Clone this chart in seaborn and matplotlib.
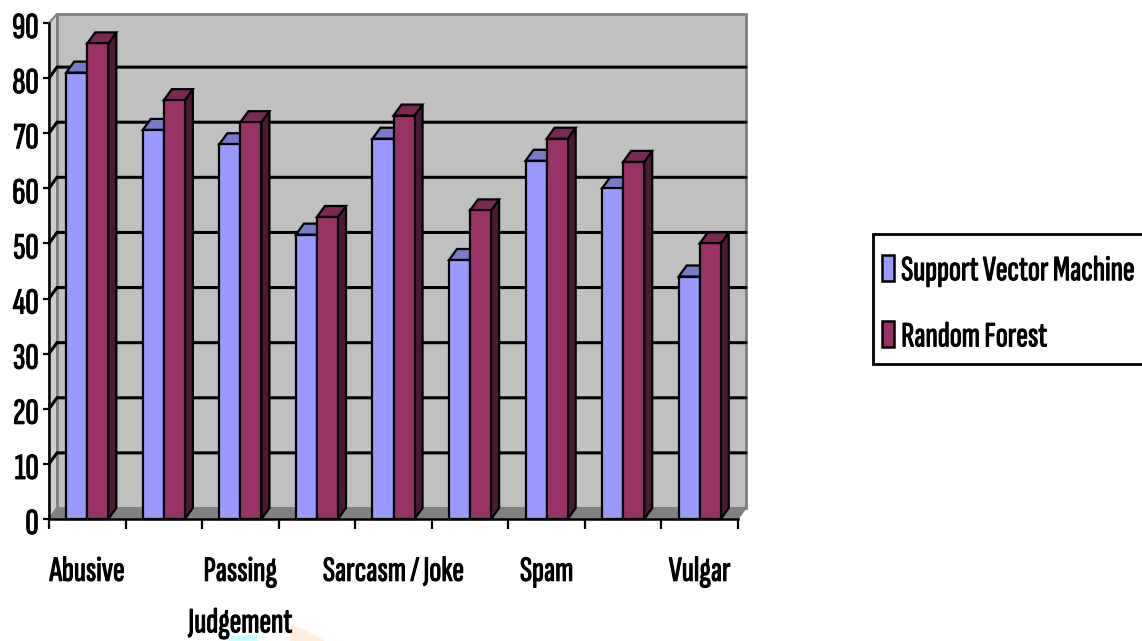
import matplotlib
matplotlib.use("Agg")
import matplotlib.pyplot as plt
import matplotlib.patheffects as pe
from matplotlib.patches import Patch, Polygon, Rectangle
from matplotlib.transforms import ScaledTranslation
import pandas as pd
import seaborn as sns

# Classification scores per comment category (every other category label is shown)
groups = list(range(9))
tick_labels = ["Abusive", "", "Passing\nJudgement", "", "Sarcasm / Joke", "", "Spam", "", "Vulgar"]
svm_scores = [81, 70.6, 68, 51.6, 69, 47, 65, 60, 44]
rf_scores = [86.3, 76, 72, 54.8, 73.2, 56, 69, 64.8, 50]
y_ticks = list(range(0, 91, 10))
series_names = ["Support Vector Machine", "Random Forest"]

front_colors = ["#9999FF", "#993366"]
top_colors = ["#7A7ACC", "#7A2952"]
side_colors = ["#4D4D80", "#4D1A33"]

sns.set_theme(style="white")
plt.rcParams["font.family"] = ["Sofia Sans Extra Condensed", "Oswald", "DejaVu Sans"]
plt.rcParams["font.weight"] = "bold"

# A thin outline gives the condensed face its heavy look
HEAVY = [pe.withStroke(linewidth=0.8, foreground="black")]
FONT_SIZE = 25.5

W, H = 1142, 641
fig = plt.figure(figsize=(W / 100, H / 100), dpi=100)
ax = fig.add_axes([49 / W, (H - 519) / H, 689 / W, 496 / H])

# Pale page decoration peeking out along the bottom edge
for points, tint in (([(228, 641), (232, 636), (257, 634), (257, 641)], "#CCFFFF"),
                     ([(290, 641), (290, 625), (305, 630), (325, 641)], "#FFEEDD")):
    fig.add_artist(Polygon([(px / W, 1 - py / H) for px, py in points], closed=True,
                           transform=fig.transFigure, facecolor=tint, edgecolor="none", zorder=-1))

df = pd.DataFrame({
    "group": groups * 2,
    "model": [series_names[0]] * 9 + [series_names[1]] * 9,
    "score": svm_scores + rf_scores,
})
sns.barplot(data=df, x="group", y="score", hue="model", hue_order=series_names,
            palette=front_colors, saturation=1, width=0.55, gap=0,
            edgecolor="black", linewidth=1.6, legend=False, ax=ax)

ax.set_xlim(-0.5, 8.5)
ax.set_ylim(0, 90)
ax.patch.set_visible(False)

# Oblique depth of the pseudo-3D box, in data units
dx = 8 / (689 / 9)
dy = 11 / (496 / 90)
x0, x1 = -0.5, 8.5
wall_top = 90 + dy - 0.3
EDGE = dict(clip_on=False, joinstyle="miter")

ax.add_patch(Polygon([(x0 + dx, dy), (x1 + dx, dy), (x1 + dx, wall_top), (x0 + dx, wall_top)],
                     facecolor="#C0C0C0", edgecolor="#808080", linewidth=2, zorder=0.5, **EDGE))
ax.add_patch(Polygon([(x0, 0), (x0 + dx, dy), (x0 + dx, wall_top), (x0, 90)],
                     facecolor="#CDCDCD", edgecolor="#808080", linewidth=1.4, zorder=0.6, **EDGE))
ax.add_patch(Polygon([(x0, 0), (x1, 0), (x1 + dx, dy), (x0 + dx, dy)],
                     facecolor="#808080", edgecolor="#808080", linewidth=1, zorder=0.7, **EDGE))

# Gridlines run along the back wall and step down the left wall
for v in y_ticks[1:-1]:
    ax.plot([x0, x0 + dx, x1 + dx], [v, v + dy, v + dy], color="black", linewidth=2.2,
            clip_on=False, solid_joinstyle="miter", zorder=1)

# Side and top faces are derived from each drawn bar
for s, container in enumerate(ax.containers):
    for bar in container:
        left, w, h = bar.get_x(), bar.get_width(), bar.get_height()
        right = left + w
        bar.set_zorder(4 + 2 * s)
        bar.set_clip_on(False)
        ax.add_patch(Polygon([(right, 0), (right + dx, dy), (right + dx, h + dy), (right, h)],
                             facecolor=side_colors[s], edgecolor="black", linewidth=1.6,
                             zorder=3 + 2 * s, **EDGE))
        ax.add_patch(Polygon([(left, h), (right, h), (right + dx, h + dy), (left + dx, h + dy)],
                             facecolor=top_colors[s], edgecolor="black", linewidth=1.6,
                             zorder=3 + 2 * s, **EDGE))

# Ticks sit on category boundaries, labels at category centres
ax.set_xticks([g - 0.5 for g in groups] + [8.5])
ax.set_xticklabels([])
ax.set_xticks(groups, minor=True)
ax.set_xticklabels(tick_labels, minor=True, fontsize=FONT_SIZE, linespacing=1.78, color="black",
                   path_effects=HEAVY)
ax.tick_params(axis="x", which="major", length=7.5, width=1.6, color="black", bottom=True)
ax.tick_params(axis="x", which="minor", length=0, pad=26.5, bottom=True)
ax.set_yticks(y_ticks)
ax.set_yticklabels([str(v) for v in y_ticks], fontsize=FONT_SIZE + 1, color="black", path_effects=HEAVY)
ax.tick_params(axis="y", length=4.5, width=1.6, color="black", pad=3, left=True)
nudge = ScaledTranslation(0, -2.5 / 100, fig.dpi_scale_trans)
for label in ax.get_yticklabels():
    label.set_transform(label.get_transform() + nudge)
ax.set_xlabel("")
ax.set_ylabel("")

sns.despine(ax=ax, top=True, right=True)
for side in ("left", "bottom"):
    ax.spines[side].set_color("black")
    ax.spines[side].set_linewidth(1.8)
    ax.spines[side].set_zorder(9)

# Legend box runs off the right edge of the figure
fig.add_artist(Rectangle((873 / W, (H - 364) / H), 280 / W, 130 / H, transform=fig.transFigure,
                         facecolor="white", edgecolor="black", linewidth=2))
handles = [Patch(facecolor=c, edgecolor="black", linewidth=1.8) for c in front_colors]
leg = fig.legend(handles, series_names, loc="center left",
                 bbox_to_anchor=(882 / W, (H - 304) / H), bbox_transform=fig.transFigure,
                 fontsize=FONT_SIZE, frameon=False, handlelength=0.34, handleheight=0.77,
                 handletextpad=0.2, labelspacing=0.95, borderpad=0, borderaxespad=0,
                 labelcolor="black")
for label in leg.get_texts():
    label.set_path_effects(HEAVY)

fig.savefig("out.png", dpi=100, facecolor="white")
